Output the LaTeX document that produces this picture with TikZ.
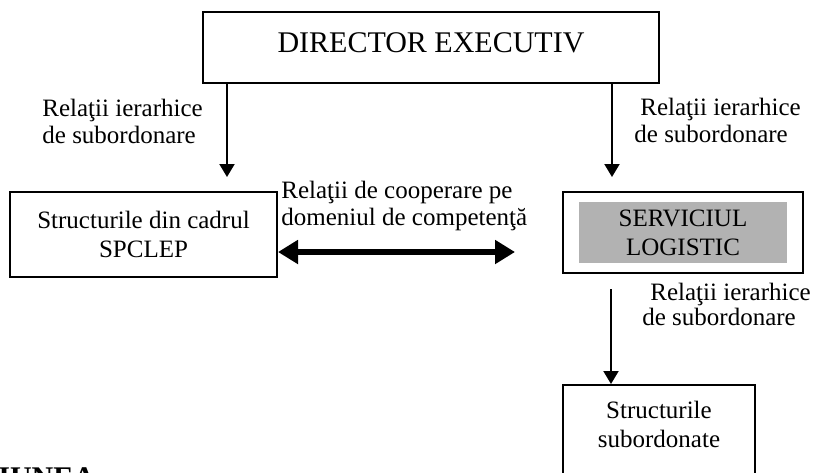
\documentclass[tikz,border=0pt]{standalone}
\usepackage{fontspec}
\setmainfont{Liberation Serif}
\usetikzlibrary{arrows.meta,calc,positioning}
\definecolor{boxgray}{RGB}{178,178,178}

\begin{document}
\begin{tikzpicture}[x=0.5pt, y=-0.5pt,
        box/.style={rectangle, draw, line width=1pt, inner sep=0pt, align=center, font=\fontsize{12.5}{14.5}\selectfont},
        rel/.style={anchor=north west, inner sep=0pt, align=left, font=\fontsize{12.5}{13.5}\selectfont},
        hier/.style={line width=1pt, -{Triangle[length=6.5pt, width=7.5pt]}},
        coop/.style={line width=3.3pt, {Triangle[length=10pt, width=11.5pt]}-{Triangle[length=10pt, width=11.5pt]}}]

                \useasboundingbox (0, 0) rectangle (813, 472);
                \clip (0, 0) rectangle (813, 472);

                % Nodes
                \node[box, minimum width=228pt, minimum height=35.5pt, text depth=5pt, font=\fontsize{15}{18}\selectfont] at (431, 47.5) (director) {DIRECTOR EXECUTIV};
                \node[box, minimum width=133.5pt, minimum height=42.5pt] at (143.5, 234.5) (spclep) {Structurile din cadrul\\SPCLEP};
                \node[box, minimum width=120pt, minimum height=40.5pt] at (683, 232.5) (logisticframe) {};
                \node[box, draw=none, fill=boxgray, minimum width=104pt, minimum height=30.5pt] at (logisticframe) (logistic) {SERVICIUL\\LOGISTIC};
                \node[box, anchor=north, minimum width=96pt, inner ysep=8pt, text depth=30pt] at (659, 384) (subord) {Structurile\\subordonate};

                % Labels
                \node[rel] at (42, 99) (lefthier) {Relaţii ierarhice\\de subordonare};
                \node[rel] at (634, 98) (righthier) {\hspace*{3pt}Relaţii ierarhice\\de subordonare};
                \node[rel] at (281, 181) (cooplabel) {Relaţii de cooperare pe\\domeniul de competenţă};
                \node[rel, font=\fontsize{12.5}{12.5}\selectfont] at (642, 283) (subhier) {\hspace*{4pt}Relaţii ierarhice\\de subordonare};
                \node[anchor=base west, inner sep=0pt, font=\fontsize{15}{18}\selectfont\bfseries] at (-2, 487) (heading) {IUNEA};

                % Connectors
                \coordinate (ldrop) at (227, 0);
                \coordinate (rdrop) at (612, 0);
                \coordinate (sdrop) at (611, 0);
                \coordinate (cooprt) at (515, 252);

                \draw[hier, shorten >=7pt] (director.south -| ldrop) -- (spclep.north -| ldrop);
                \draw[hier, shorten >=7pt] (director.south -| rdrop) -- (logisticframe.north -| rdrop);
                \draw[hier, shorten <=7.5pt] (logisticframe.south -| sdrop) -- (subord.north -| sdrop);
                \draw[coop] (spclep.east |- cooprt) -- (cooprt);

            \end{tikzpicture}
\end{document}
